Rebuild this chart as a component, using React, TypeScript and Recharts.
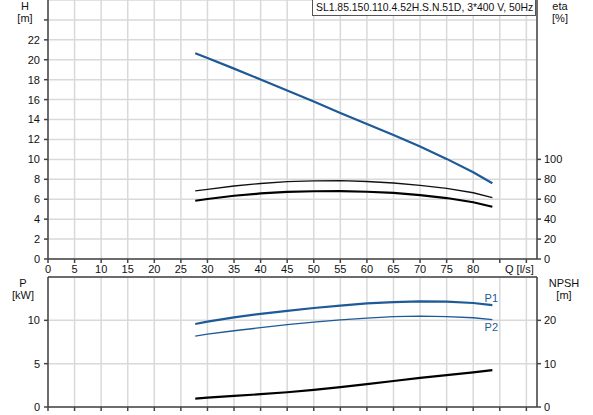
import { LineChart, Line, XAxis, YAxis, CartesianGrid, ReferenceLine } from "recharts"

// flow points (l/s) of the duty curves
const flow = [27.7, 30, 35, 40, 45, 50, 55, 60, 65, 70, 75, 80, 83.6]
const head = [20.65, 20.17, 19.11, 18.02, 16.92, 15.8, 14.65, 13.55, 12.45, 11.3, 10.05, 8.7, 7.6]
const etaPump = [68.3, 70, 73.3, 75.8, 77.6, 78.5, 78.6, 77.8, 76.3, 74.0, 70.8, 66.5, 61.5]
const etaTotal = [58.5, 60.2, 63.5, 65.8, 67.3, 68.0, 68.1, 67.5, 66.3, 64.2, 61.2, 57.0, 52.5]
const powerP1 = [9.58, 9.85, 10.35, 10.75, 11.1, 11.42, 11.7, 11.95, 12.1, 12.18, 12.15, 12.0, 11.75]
const powerP2 = [8.19, 8.4, 8.8, 9.15, 9.5, 9.8, 10.05, 10.25, 10.42, 10.48, 10.43, 10.3, 10.08]
const npsh = [1.95, 2.15, 2.55, 2.95, 3.4, 3.95, 4.6, 5.3, 6.0, 6.7, 7.35, 8.0, 8.5]

const qTicks = [0, 5, 10, 15, 20, 25, 30, 35, 40, 45, 50, 55, 60, 65, 70, 75, 80, 85, 90]
const headTicks = [0, 2, 4, 6, 8, 10, 12, 14, 16, 18, 20, 22, 24]
const etaTicks = [0, 20, 40, 60, 80, 100]
const powerTicks = [0, 5, 10]
const npshTicks = [0, 10, 20]

const title = "SL1.85.150.110.4.52H.S.N.51D, 3*400 V, 50Hz"

const rows = flow.map((q, i) => ({
  q,
  head: head[i],
  etaPump: etaPump[i],
  etaTotal: etaTotal[i],
  p1: powerP1[i],
  p2: powerP2[i],
  npsh: npsh[i],
}))

const BLUE = "#1d5a97"
const GRID = "#d9d9d9"
const AXIS = "#444"
const font = { fontFamily: "'Liberation Sans', Arial, sans-serif", fontSize: 11, fill: "#111" }

function QTick(props: any) {
  const { x, y, payload } = props
  if (payload.value === 85) return <g />
  if (payload.value === 90) {
    return (
      <text x={x - 7} y={y} dy="0.71em" textAnchor="middle" {...font}>
        Q [l/s]
      </text>
    )
  }
  return (
    <text x={x} y={y} dy="0.71em" textAnchor="middle" {...font}>
      {payload.value}
    </text>
  )
}

const unitStyle: React.CSSProperties = {
  position: "absolute",
  fontFamily: "'Liberation Sans', Arial, sans-serif",
  fontSize: 11,
  color: "#111",
  textAlign: "center",
  lineHeight: "12px",
}

export default function App() {
  const last = rows.length - 1
  return (
    <div style={{ position: "absolute", left: 0, top: 0, width: 593, height: 415, background: "#fff" }}>
      <div style={{ position: "absolute", left: 0, top: 0 }}>
        <LineChart width={593} height={276} data={rows} margin={{ top: 0, right: 0, bottom: 0, left: 0 }}>
          <CartesianGrid yAxisId="h" stroke={GRID} strokeWidth={1.5} />
          <XAxis
            dataKey="q"
            type="number"
            domain={[0, 92]}
            ticks={qTicks}
            height={17}
            tick={<QTick />}
            tickSize={4}
            tickMargin={2}
            stroke={AXIS}
            strokeWidth={1.5}
            interval={0}
          />
          <YAxis
            yAxisId="h"
            domain={[0, 26]}
            ticks={headTicks}
            width={48}
            tickSize={4}
            tickMargin={4}
            tick={font}
            tickFormatter={(v) => (v === 24 ? "" : String(v))}
            stroke={AXIS}
            strokeWidth={1.5}
            interval={0}
          />
          <YAxis
            yAxisId="eta"
            orientation="right"
            domain={[0, 260]}
            ticks={etaTicks}
            width={56}
            tickSize={4}
            tickMargin={3}
            tick={{ ...font, textAnchor: "start" }}
            stroke={AXIS}
            strokeWidth={1.5}
            interval={0}
          />
          <Line yAxisId="h" dataKey="head" stroke={BLUE} strokeWidth={2.2} dot={false} isAnimationActive={false} />
          <Line yAxisId="eta" dataKey="etaPump" stroke="#111" strokeWidth={1.3} dot={false} isAnimationActive={false} />
          <Line yAxisId="eta" dataKey="etaTotal" stroke="#000" strokeWidth={2.2} dot={false} isAnimationActive={false} />
        </LineChart>
      </div>
      <div
        style={{
          position: "absolute",
          left: 312,
          top: 0,
          width: 224,
          height: 16,
          border: "1px solid #555",
          borderTop: "none",
          background: "#fff",
          boxSizing: "border-box",
          fontFamily: "'Liberation Sans', Arial, sans-serif",
          fontSize: 10.4,
          lineHeight: "15px",
          paddingLeft: 3,
          color: "#111",
          whiteSpace: "nowrap",
          overflow: "hidden",
        }}
      >
        {title}
      </div>
      <div style={{ ...unitStyle, left: 10, top: 0, width: 30 }}>
        H
        <br />
        [m]
      </div>
      <div style={{ ...unitStyle, left: 545, top: 0, width: 30 }}>
        eta
        <br />
        [%]
      </div>

      <div style={{ position: "absolute", left: 0, top: 276 }}>
        <LineChart width={593} height={139} data={rows} margin={{ top: 1, right: 0, bottom: 0, left: 0 }}>
          <CartesianGrid yAxisId="p" stroke={GRID} strokeWidth={1.5} />
          <XAxis
            dataKey="q"
            type="number"
            domain={[0, 92]}
            ticks={qTicks}
            height={8}
            tickSize={4}
            tickFormatter={() => ""}
            stroke={AXIS}
            strokeWidth={1.5}
            interval={0}
          />
          <YAxis
            yAxisId="p"
            domain={[0, 15]}
            ticks={powerTicks}
            width={48}
            tickSize={4}
            tickMargin={4}
            tick={font}
            stroke={AXIS}
            strokeWidth={1.5}
            interval={0}
          />
          <YAxis
            yAxisId="n"
            orientation="right"
            domain={[0, 30]}
            ticks={npshTicks}
            width={56}
            tickSize={4}
            tickMargin={3}
            tick={{ ...font, textAnchor: "start" }}
            stroke={AXIS}
            strokeWidth={1.5}
            interval={0}
          />
          <ReferenceLine yAxisId="p" y={15} stroke={AXIS} strokeWidth={1.5} />
          <Line
            yAxisId="p"
            dataKey="p1"
            stroke={BLUE}
            strokeWidth={2.2}
            dot={false}
            isAnimationActive={false}
            label={(p: any) =>
              p.index === last ? (
                <text key="p1" x={p.x - 1} y={p.y - 3} textAnchor="middle" {...font} fill={BLUE}>
                  P1
                </text>
              ) : (
                <g key={p.index} />
              )
            }
          />
          <Line
            yAxisId="p"
            dataKey="p2"
            stroke={BLUE}
            strokeWidth={1.3}
            dot={false}
            isAnimationActive={false}
            label={(p: any) =>
              p.index === last ? (
                <text key="p2" x={p.x - 1} y={p.y + 11} textAnchor="middle" {...font} fill={BLUE}>
                  P2
                </text>
              ) : (
                <g key={p.index} />
              )
            }
          />
          <Line yAxisId="n" dataKey="npsh" stroke="#000" strokeWidth={2.2} dot={false} isAnimationActive={false} />
        </LineChart>
      </div>
      <div style={{ ...unitStyle, left: 8, top: 277, width: 30 }}>
        P
        <br />
        [kW]
      </div>
      <div style={{ ...unitStyle, left: 544, top: 277, width: 40 }}>
        NPSH
        <br />
        [m]
      </div>
    </div>
  )
}
